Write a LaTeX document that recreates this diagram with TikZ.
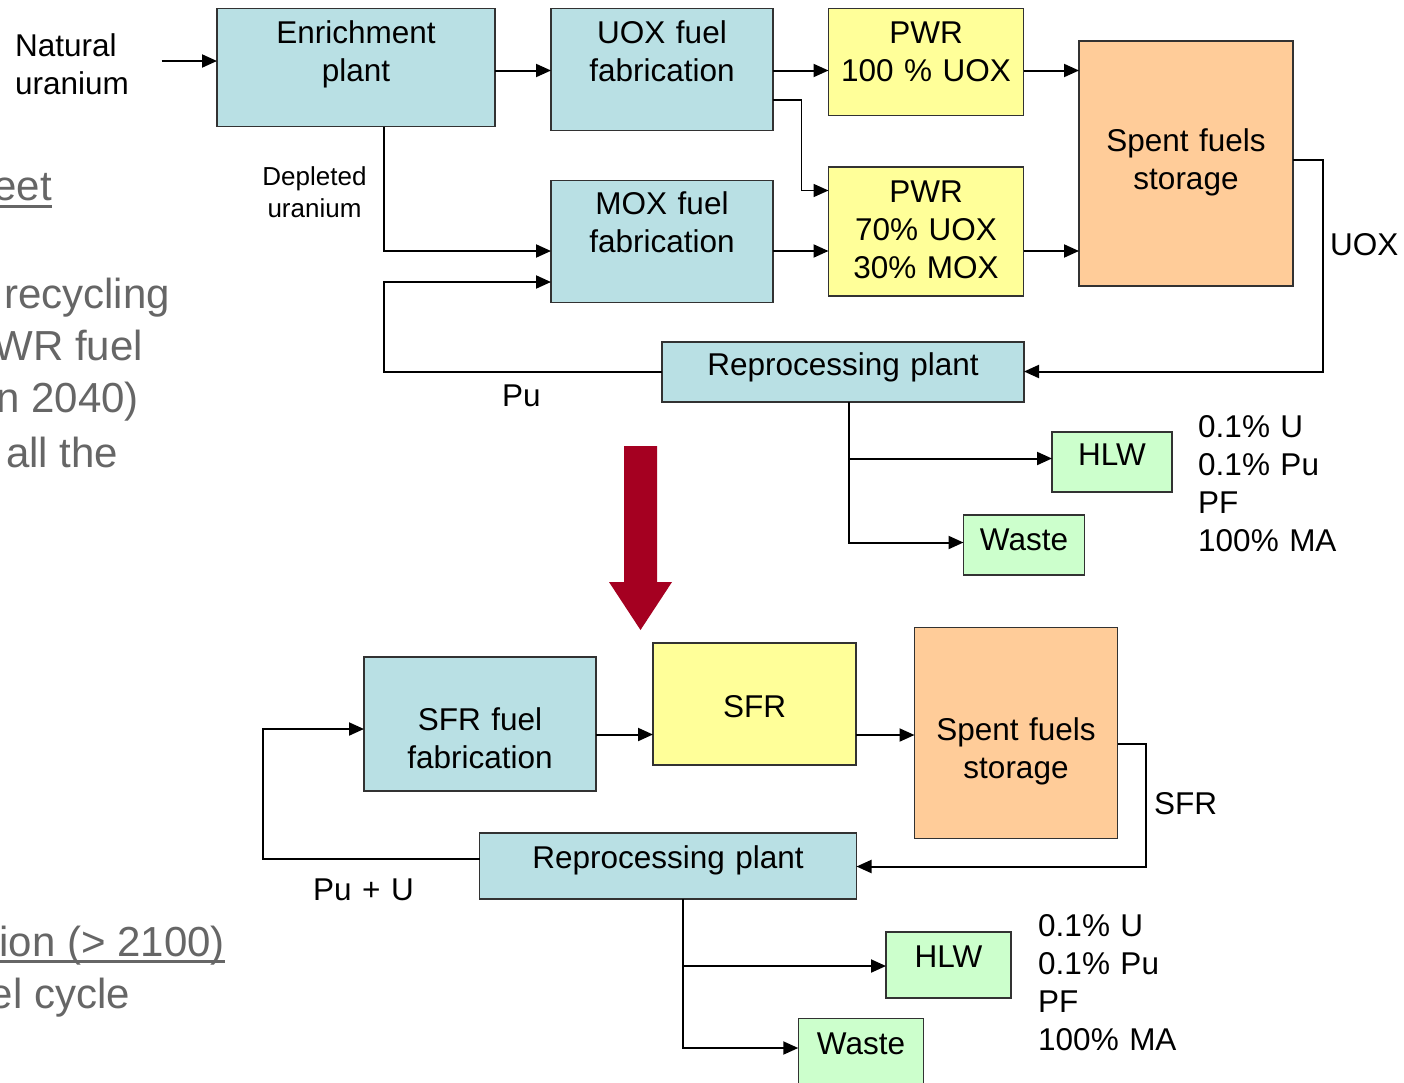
\documentclass[tikz,border=0pt]{standalone}
\usepackage{fontspec}
\setmainfont{Liberation Sans}
\usetikzlibrary{arrows.meta}
\newcommand\mainfs{\fontsize{31.5}{38}\selectfont}
\newcommand\smallfs{\fontsize{26}{32}\selectfont}
\newcommand\grayfs{\fontsize{42}{53}\selectfont}
\definecolor{cyanfill}{RGB}{185,224,228}
\definecolor{yelfill}{RGB}{255,255,153}
\definecolor{peachfill}{RGB}{255,204,153}
\definecolor{greenfill}{RGB}{204,255,204}
\definecolor{boxline}{RGB}{50,50,50}
\definecolor{graytxt}{RGB}{102,102,102}
\definecolor{bigred}{RGB}{165,0,33}
\begin{document}
\begin{tikzpicture}[x=1pt,y=-1pt,
  box/.style={draw=boxline, line width=1.3pt, inner sep=0pt, outer sep=0pt},
  txt/.style={inner sep=0pt, font=\mainfs, text width=320pt, align=center, anchor=base},
  ltxt/.style={inner sep=0pt, font=\mainfs, text width=250pt, align=left, anchor=base west},
  gtxt/.style={inner sep=0pt, font=\grayfs, text=graytxt, anchor=base east},
  arr/.style={line width=2pt, -{Triangle[length=15pt,width=13pt]}}
]
\useasboundingbox (0,0) rectangle (1404,1082);
\fill[white] (0,0) rectangle (1404,1082);

% ---- grey slide text (cut off at the left) ----
\node[gtxt] (g1) at (52,200) {eet};
\node[gtxt] (g2) at (170,308) {recycling};
\node[gtxt] (g3) at (143,360) {WR fuel};
\node[gtxt] (g4) at (139,412) {n 2040)};
\node[gtxt] (g5) at (118.5,467) {all the};
\node[gtxt] (g6) at (225,956) {ion (> 2100)};
\node[gtxt] (g7) at (130,1008) {el cycle};
\fill[graytxt] (0,204.5) rectangle (52,207.5);
\fill[graytxt] (0,959.5) rectangle (225,962.5);

% ---- upper scheme boxes ----
\node[box, fill=cyanfill, minimum width=278pt, minimum height=118pt] (enr) at (356,67.5) {};
\node[box, fill=cyanfill, minimum width=222pt, minimum height=122pt] (uox) at (662,69.5) {};
\node[box, fill=yelfill, minimum width=195pt, minimum height=107pt] (pwr1) at (926,62) {};
\node[box, fill=peachfill, minimum width=214pt, minimum height=245pt] (spent1) at (1186,163.5) {};
\node[box, fill=cyanfill, minimum width=222pt, minimum height=122pt] (mox) at (662,241.5) {};
\node[box, fill=yelfill, minimum width=195pt, minimum height=129pt] (pwr2) at (926,231.5) {};
\node[box, fill=cyanfill, minimum width=362pt, minimum height=60pt] (rep1) at (843,372) {};
\node[box, fill=greenfill, minimum width=120pt, minimum height=60pt] (hlw1) at (1112,462) {};
\node[box, fill=greenfill, minimum width=121pt, minimum height=60pt] (waste1) at (1024,545) {};

\node[txt] (enrT) at (356,43) {Enrichment\\plant};
\node[txt] (uoxT) at (662,43) {UOX fuel\\fabrication};
\node[txt] (pwr1T) at (926,43) {PWR\\100 \% UOX};
\node[txt] (spent1T) at (1186,151) {Spent fuels\\storage};
\node[txt] (moxT) at (662,214) {MOX fuel\\fabrication};
\node[txt] (pwr2T) at (926,202) {PWR\\70\% UOX\\30\% MOX};
\node[txt] (rep1T) at (843,375) {Reprocessing plant};
\node[txt] (hlw1T) at (1112,465) {HLW};
\node[txt] (waste1T) at (1024,550) {Waste};

\node[ltxt] (natT) at (15,56) {Natural\\uranium};
\node[txt, font=\smallfs] (depT) at (314.5,185) {Depleted\\uranium};
\node[ltxt] (uoxL) at (1330,255) {UOX};
\node[ltxt] (puL) at (502,406) {Pu};
\node[ltxt, text width=220pt] (list1) at (1198,437) {0.1\% U\\0.1\% Pu\\PF\\100\% MA};

% ---- upper connectors ----
\coordinate (nuS) at (161.5,61);
\draw[arr] (nuS) -- (enr.west |- nuS);
\draw[arr] (enr.east |- 0,70.5) -- (uox.west |- 0,70.5);
\draw[arr] (uox.east |- 0,70.5) -- (pwr1.west |- 0,70.5);
\coordinate (brU) at (801.5,0);
\draw[arr, line width=1.7pt] (uox.east |- 0,100) -- (brU |- 0,100) -- (brU |- 0,190.5) -- (pwr2.west |- 0,190.5);
\draw[arr] (pwr1.east |- 0,70.5) -- (spent1.west |- 0,70.5);
\draw[arr] (pwr2.east |- 0,251) -- (spent1.west |- 0,251);
\draw[arr] (mox.east |- 0,251) -- (pwr2.west |- 0,251);
\coordinate (depX) at (384,0);
\draw[arr] (enr.south -| depX) -- (depX |- 0,251) -- (mox.west |- 0,251);
\draw[arr] (rep1.west |- 0,372) -- (depX |- 0,372) -- (depX |- 0,282) -- (mox.west |- 0,282);
\coordinate (uoxX) at (1322.5,0);
\draw[arr] (spent1.east |- 0,159.5) -- (uoxX |- 0,159.5) -- (uoxX |- 0,371.5) -- (rep1.east |- 0,371.5);
\coordinate (r1X) at (848.5,0);
\draw[arr] (rep1.south -| r1X) -- (r1X |- 0,542.5) -- (waste1.west |- 0,542.5);
\draw[arr] (r1X |- 0,458.5) -- (hlw1.west |- 0,458.5);

% ---- big red arrow ----
\fill[bigred] (624,446) -- (657,446) -- (657,582) -- (672,582) -- (640.5,630) -- (609,582) -- (624,582) -- cycle;

% ---- lower scheme boxes ----
\node[box, fill=cyanfill, minimum width=232pt, minimum height=134pt] (sfrfab) at (480,724) {};
\node[box, fill=yelfill, minimum width=203pt, minimum height=122pt] (sfr) at (754.5,704) {};
\node[box, fill=peachfill, minimum width=203pt, minimum height=211pt] (spent2) at (1016,733) {};
\node[box, fill=cyanfill, minimum width=377pt, minimum height=66pt] (rep2) at (668,866) {};
\node[box, fill=greenfill, minimum width=125pt, minimum height=66pt] (hlw2) at (948.5,965) {};
\node[box, fill=greenfill, minimum width=125.5pt, minimum height=68pt] (waste2) at (861,1052.5) {};

\node[txt] (sfrfabT) at (480,730) {SFR fuel\\fabrication};
\node[txt] (sfrT) at (754.5,717) {SFR};
\node[txt] (spent2T) at (1016,740) {Spent fuels\\storage};
\node[txt] (rep2T) at (668,868) {Reprocessing plant};
\node[txt] (hlw2T) at (948.5,967) {HLW};
\node[txt] (waste2T) at (861,1054) {Waste};

\node[ltxt] (sfrL) at (1154,814) {SFR};
\node[ltxt] (puuL) at (313,900) {Pu + U};
\node[ltxt, text width=220pt] (list2) at (1038,936) {0.1\% U\\0.1\% Pu\\PF\\100\% MA};

% ---- lower connectors ----
\draw[arr] (sfrfab.east |- 0,734.5) -- (sfr.west |- 0,734.5);
\draw[arr] (sfr.east |- 0,735) -- (spent2.west |- 0,735);
\coordinate (sfrX) at (1146,0);
\draw[arr] (spent2.east |- 0,744) -- (sfrX |- 0,744) -- (sfrX |- 0,866.5) -- (rep2.east |- 0,866.5);
\coordinate (puX) at (262.5,0);
\draw[arr] (rep2.west |- 0,859) -- (puX |- 0,859) -- (puX |- 0,729) -- (sfrfab.west |- 0,729);
\coordinate (r2X) at (682.5,0);
\draw[arr] (rep2.south -| r2X) -- (r2X |- 0,1048) -- (waste2.west |- 0,1048);
\draw[arr] (r2X |- 0,966) -- (hlw2.west |- 0,966);
\end{tikzpicture}
\end{document}
